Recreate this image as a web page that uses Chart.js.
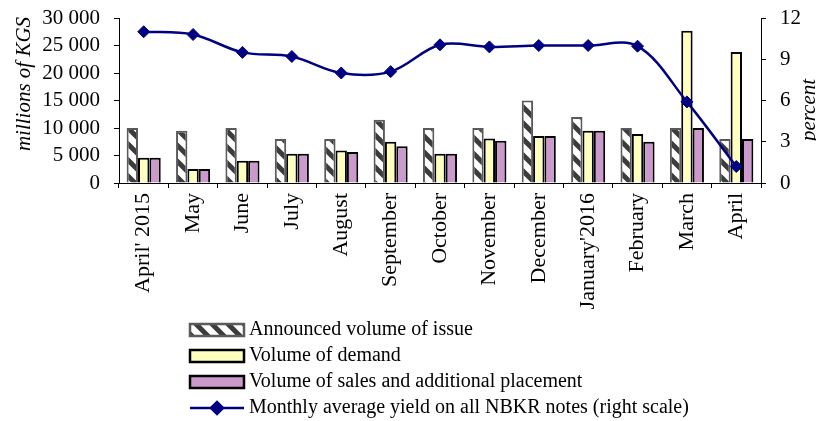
<!DOCTYPE html>
<html>
<head>
<meta charset="utf-8">
<script src="https://cdn.jsdelivr.net/npm/chart.js@4.4.1/dist/chart.umd.min.js"></script>
<style>
  html, body { margin: 0; padding: 0; background: #fff; }
</style>
</head>
<body>
<canvas id="chart" width="816" height="421"></canvas>
<script>
// Data
const months = ["April' 2015", 'May', 'June', 'July', 'August', 'September', 'October',
    'November', 'December', "January'2016", 'February', 'March', 'April'];
const announced = [10000, 9500, 10000, 8000, 8000, 11500, 10000, 10000, 15000, 12000, 10000, 10000, 8000];
const demand = [4600, 2550, 4050, 5300, 5900, 7500, 5300, 8100, 8550, 9500, 8900, 27700, 23800];
const sales = [4600, 2550, 4050, 5300, 5650, 6700, 5300, 7700, 8550, 9500, 7500, 10000, 8000];
const yieldPct = [11.0, 10.8, 9.5, 9.2, 8.0, 8.1, 10.05, 9.9, 10.0, 10.0, 9.95, 5.9, 1.2];

const FONT = 'Liberation Serif, Times New Roman, serif';
Chart.defaults.font.family = FONT;
Chart.defaults.font.size = 21;
Chart.defaults.color = '#000';

// Wide downward diagonal hatch for the announced volume
function makeHatch(ctx) {
    const c = document.createElement('canvas');
    c.width = 16;
    c.height = 16;
    const g = c.getContext('2d');
    g.fillStyle = '#fff';
    g.fillRect(0, 0, 16, 16);
    g.strokeStyle = '#3c3c3c';
    g.lineWidth = 5;
    g.beginPath();
    g.moveTo(-4, -4); g.lineTo(20, 20);
    g.moveTo(-4, 12); g.lineTo(4, 20);
    g.moveTo(12, -4); g.lineTo(20, 4);
    g.stroke();
    return ctx.createPattern(c, 'repeat');
}

const fmtThousands = v => String(v).replace(/\B(?=(\d{3})+(?!\d))/g, ' ');

// y scales: fixed width, and no extra room above for the top label
const fitY = w => s => { s.width = w; s.paddingTop = 0; s.paddingBottom = 0; };

// Axis titles, placed like in the original (both read bottom to top)
const axisTitles = {
    id: 'axisTitles',
    afterDraw(chart) {
        const ctx = chart.ctx;
        ctx.save();
        ctx.fillStyle = '#000';
        ctx.font = 'italic 21px ' + FONT;
        ctx.textAlign = 'center';
        ctx.textBaseline = 'alphabetic';
        ctx.translate(30, 84);
        ctx.rotate(-Math.PI / 2);
        ctx.fillText('millions of KGS', 0, 0);
        ctx.restore();

        ctx.save();
        ctx.fillStyle = '#000';
        ctx.font = 'italic 21px ' + FONT;
        ctx.textAlign = 'center';
        ctx.textBaseline = 'alphabetic';
        ctx.translate(815, 110);
        ctx.rotate(-Math.PI / 2);
        ctx.fillText('percent', 0, 0);
        ctx.restore();
    }
};

// One-item-per-row legend under the axis labels
const stackLegend = {
    id: 'stackLegend',
    afterDraw(chart) {
        const ctx = chart.ctx;
        const x0 = 190, boxW = 54, boxH = 12, textX = 249;
        ctx.save();
        ctx.font = '20px ' + FONT;
        ctx.textBaseline = 'middle';
        chart.data.datasets.forEach((ds, i) => {
            const y = 330 + i * 26;
            if (ds.type === 'line') {
                ctx.strokeStyle = ds.borderColor;
                ctx.lineWidth = ds.borderWidth;
                ctx.beginPath();
                ctx.moveTo(x0, y);
                ctx.lineTo(x0 + boxW, y);
                ctx.stroke();
                Chart.helpers.drawPoint(ctx, {
                    pointStyle: ds.pointStyle,
                    radius: ds.pointRadius,
                    borderWidth: 1
                }, x0 + boxW / 2, y);
                ctx.fillStyle = ds.pointBackgroundColor;
                ctx.fill();
            } else {
                ctx.fillStyle = ds.backgroundColor;
                ctx.fillRect(x0, y - boxH / 2, boxW, boxH);
                ctx.strokeStyle = ds.borderColor;
                ctx.lineWidth = 2.5;
                ctx.strokeRect(x0, y - boxH / 2, boxW, boxH);
            }
            ctx.fillStyle = '#000';
            ctx.fillText(ds.label, textX, y);
        });
        ctx.restore();
    }
};

const canvas = document.getElementById('chart');
const ctx = canvas.getContext('2d');

new Chart(ctx, {
    type: 'bar',
    data: {
        labels: months,
        datasets: [
            {
                label: 'Announced volume of issue',
                data: announced,
                backgroundColor: makeHatch(ctx),
                borderColor: '#5a5a5a',
                borderWidth: 2,
                yAxisID: 'y',
                order: 1
            },
            {
                label: 'Volume of demand',
                data: demand,
                backgroundColor: '#ffffc0',
                borderColor: '#000',
                borderWidth: 2,
                yAxisID: 'y',
                order: 1
            },
            {
                label: 'Volume of sales and additional placement',
                data: sales,
                backgroundColor: '#cc99cc',
                borderColor: '#000',
                borderWidth: 2,
                yAxisID: 'y',
                order: 1
            },
            {
                type: 'line',
                label: 'Monthly average yield on all NBKR notes (right scale)',
                data: yieldPct,
                borderColor: '#000080',
                borderWidth: 2.5,
                pointStyle: 'rectRot',
                pointRadius: 6,
                pointBorderWidth: 1,
                pointBackgroundColor: '#000080',
                pointBorderColor: '#000080',
                tension: 0.35,
                fill: false,
                yAxisID: 'y1',
                order: 0
            }
        ]
    },
    options: {
        responsive: false,
        animation: false,
        layout: { padding: { top: 18, left: 0, right: 0, bottom: 0 } },
        categoryPercentage: 0.69,
        barPercentage: 1.0,
        plugins: {
            legend: { display: false },
            tooltip: { enabled: false }
        },
        scales: {
            x: {
                grid: { drawOnChartArea: false, offset: true, tickLength: 5, color: '#000' },
                border: { color: '#000', width: 1 },
                ticks: { minRotation: 90, maxRotation: 90, autoSkip: false, padding: 5, font: { size: 22 } },
                afterFit: s => { s.height = 238; s.paddingLeft = 0; s.paddingRight = 0; }
            },
            y: {
                position: 'left',
                min: 0,
                max: 30000,
                ticks: { stepSize: 5000, autoSkip: false, padding: 14, callback: v => fmtThousands(v) },
                grid: { drawOnChartArea: false, tickLength: 5, color: '#000' },
                border: { color: '#000', width: 1 },
                afterFit: fitY(119)
            },
            y1: {
                position: 'right',
                min: 0,
                max: 12,
                ticks: { stepSize: 3, autoSkip: false, padding: 14 },
                grid: { drawOnChartArea: false, tickLength: 5, color: '#000' },
                border: { color: '#000', width: 1 },
                afterFit: fitY(55)
            }
        }
    },
    plugins: [axisTitles, stackLegend]
});
</script>
</body>
</html>
